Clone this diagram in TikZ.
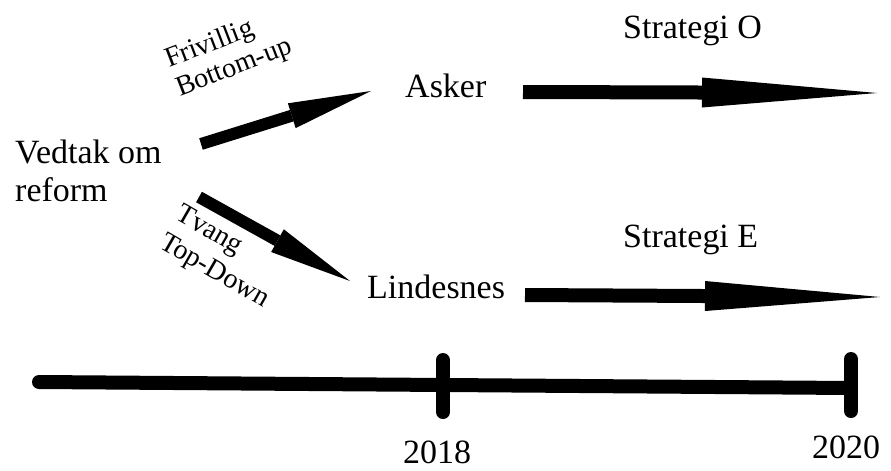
\documentclass[tikz,border=0pt]{standalone}
\usepackage{fontspec}
\setmainfont{Liberation Serif}
\usetikzlibrary{arrows.meta}
\begin{document}
\begin{tikzpicture}[x=0.03cm,y=-0.03cm,
  lbl/.style={inner sep=0, font=\fontsize{29}{33}\selectfont},
  sidelbl/.style={inner sep=0, align=left, font=\fontsize{24}{26}\selectfont},
  longarrow/.style={line width=0.42cm, -{Triangle[length=5.25cm,width=0.9cm,line width=0pt]}},
  shortarrow/.style={line width=0.36cm, -{Triangle[length=2.49cm,width=0.78cm,line width=0pt]}},
  axisline/.style={line width=0.42cm, line cap=round},
  yeartick/.style={line width=0.42cm, line cap=round}]
\useasboundingbox (0,0) rectangle (891,470);

% labels
\node[lbl, align=left, anchor=west] (vedtak) at (15,171) {Vedtak om\\reform};
\node[lbl, anchor=base west] (asker) at (405,97) {Asker};
\node[lbl, anchor=base west] (lindesnes) at (367,298) {Lindesnes};
\node[lbl, anchor=base west] (stratO) at (623,38) {Strategi O};
\node[lbl, anchor=base west] (stratE) at (623,247) {Strategi E};
\node[sidelbl, rotate=21] (frivillig) at (229,54) {Frivillig\\Bottom-up};
\node[sidelbl, rotate=-30, font=\fontsize{24}{28}\selectfont] (tvang) at (222,258) {Tvang\\Top-Down};
\node[lbl, anchor=base west] (y2018) at (403,463) {2018};
\node[lbl, anchor=base west] (y2020) at (812,458) {2020};

% arrow end points
\coordinate (fb-tail) at (201,144);
\coordinate (fb-tip) at (371,91);
\coordinate (td-tail) at (199,197);
\coordinate (td-tip) at (350,281);
\coordinate (o-tail) at (523,92);
\coordinate (o-tip) at (877,93);
\coordinate (e-tail) at (525,295);
\coordinate (e-tip) at (880,297);

% arrows
\draw[shortarrow] (fb-tail) -- (fb-tip);
\draw[shortarrow] (td-tail) -- (td-tip);
\draw[longarrow] (o-tail) -- (o-tip);
\draw[longarrow] (e-tail) -- (e-tip);

% timeline
\coordinate (t-start) at (39,382);
\coordinate (t-end) at (851,388);
\coordinate (t18-top) at (443,360);
\coordinate (t18-bot) at (443,412);
\coordinate (t20-top) at (851,359);
\coordinate (t20-bot) at (851,411);
\draw[axisline] (t-start) -- (t-end);
\draw[yeartick] (t18-top) -- (t18-bot);
\draw[yeartick] (t20-top) -- (t20-bot);
\end{tikzpicture}
\end{document}
